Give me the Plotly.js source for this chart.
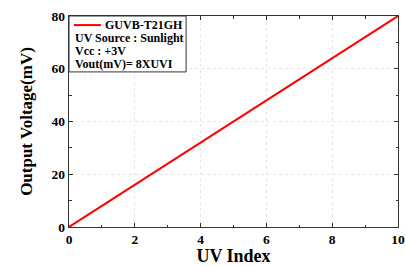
<!DOCTYPE html>
<html><head><meta charset="utf-8">
<script src="https://cdn.plot.ly/plotly-3.0.1.min.js"></script>
<style>html,body{margin:0;padding:0;background:#fff}#c{width:406px;height:266px}</style>
</head><body><div id="c"></div>
<script>
const uvIndex = [0, 1, 2, 3, 4, 5, 6, 7, 8, 9, 10];
const voutMV = [0, 8, 16, 24, 32, 40, 48, 56, 64, 72, 80];
const seriesName = 'GUVB-T21GH';
const noteLines = ['UV Source : Sunlight', 'Vcc : +3V', 'Vout(mV)= 8XUVI'];
const xTicks = [0, 2, 4, 6, 8, 10];
const yTicks = [0, 20, 40, 60, 80];

const font = 'Liberation Serif, Times New Roman, serif';
const lineColor = '#ff0000';
const trace = {x: uvIndex, y: voutMV, type: 'scatter', mode: 'lines', name: seriesName,
  line: {color: lineColor, width: 2}, showlegend: false};
const noteY = [0.898, 0.833, 0.773];
const annotations = noteLines.map((t, i) => ({
  xref: 'paper', yref: 'paper', x: 0.012, y: noteY[i], xanchor: 'left', yanchor: 'middle',
  text: '<b>' + t + '</b>', showarrow: false, font: {family: font, size: 12, color: '#000'}
}));
annotations.push({xref: 'paper', yref: 'paper', x: 0.104, y: 0.957, xanchor: 'left', yanchor: 'middle',
  text: '<b>' + seriesName + '</b>', showarrow: false, font: {family: font, size: 12, color: '#000'}});
const axisCommon = {
  showline: true, linecolor: '#333', linewidth: 1.2, mirror: 'ticks', ticks: 'inside', ticklen: 4,
  tickcolor: '#333', showgrid: true, gridcolor: '#e6e6e6', griddash: 'dot', gridwidth: 1, zeroline: false,
  tickfont: {family: font, size: 13.5, color: '#000', weight: 'bold'},
  minor: {ticks: 'inside', ticklen: 2.5, tickcolor: '#333', showgrid: false}
};
const layout = {
  width: 406, height: 266,
  margin: {l: 69, r: 8, t: 16, b: 39},
  paper_bgcolor: '#fff', plot_bgcolor: '#fff',
  showlegend: false,
  xaxis: Object.assign({}, axisCommon, {range: [0, 10], tickvals: xTicks, minor: Object.assign({}, axisCommon.minor, {dtick: 1}),
    title: {text: '<b>UV Index</b>', font: {family: font, size: 18, color: '#000'}, standoff: 8}}),
  yaxis: Object.assign({}, axisCommon, {range: [0, 80], tickvals: yTicks, minor: Object.assign({}, axisCommon.minor, {dtick: 10}),
    title: {text: '<b>Output Voltage(mV)</b>', font: {family: font, size: 17, color: '#000'}, standoff: 14}}),
  shapes: [
    {type: 'rect', xref: 'paper', yref: 'paper', x0: 0, x1: 0.356, y0: 0.735, y1: 1,
      line: {color: '#333', width: 1}, fillcolor: '#fff', layer: 'above'},
    {type: 'line', xref: 'paper', yref: 'paper', x0: 0.015, x1: 0.097, y0: 0.957, y1: 0.957,
      line: {color: lineColor, width: 2}, layer: 'above'}
  ],
  annotations: annotations
};
Plotly.newPlot('c', [trace], layout, {staticPlot: true, displayModeBar: false});
</script></body></html>
